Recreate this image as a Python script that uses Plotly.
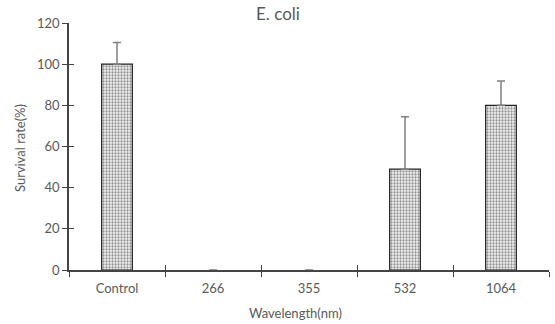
import plotly.graph_objects as go

categories = ["Control", "266", "355", "532", "1064"]
survival = [100, 0, 0, 49, 80]
err_plus = [10.5, None, None, 25.5, 11.8]
err_minus = [0, None, None, 0, 0]

outline = [1.2 if v > 0 else 0 for v in survival]
bar_opacity = [1 if v > 0 else 0 for v in survival]

fig = go.Figure()
fig.add_trace(go.Bar(
    x=categories, y=survival, width=0.32,
    marker=dict(color="#bdbdbd", opacity=bar_opacity, line=dict(color="#222222", width=outline),
                pattern=dict(shape=".", fgcolor="#333333", bgcolor="#f2f2f2", size=3, solidity=0.45)),
    error_y=dict(type="data", symmetric=False, array=err_plus, arrayminus=err_minus,
                 color="#7f7f7f", thickness=1.5, width=4, visible=True),
    showlegend=False,
))
# invisible companion trace on overlay axes, used only to draw the inward half of the crossing ticks
fig.add_trace(go.Bar(x=categories, y=survival, xaxis="x2", yaxis="y2", opacity=0,
                     hoverinfo="skip", showlegend=False))

font = "Lato, Open Sans, sans-serif"
grey = "#595959"
axcol = "#444444"
fig.update_layout(
    width=555, height=324,
    margin=dict(l=69, r=6, t=23, b=54, autoexpand=False),
    plot_bgcolor="white", paper_bgcolor="white",
    font=dict(family=font, size=13, color=grey),
    xaxis=dict(type="category", range=[-0.5, 4.5], showline=True, linecolor=axcol, linewidth=1.5,
               ticks="outside", tickson="boundaries", ticklen=5, tickcolor=axcol, tickwidth=1.2,
               tickfont=dict(size=13, color=grey), automargin=False, ticklabelstandoff=6),
    yaxis=dict(range=[0, 120], dtick=20, showline=True, linecolor=axcol, linewidth=1.5,
               ticks="outside", ticklen=5, tickcolor=axcol, tickwidth=1.2, showgrid=False, zeroline=False,
               tickfont=dict(size=13, color=grey), automargin=False),
    xaxis2=dict(type="category", range=[-0.5, 4.5], overlaying="x", side="bottom", anchor="y2",
                ticks="inside", tickson="boundaries", ticklen=5, tickcolor=axcol, tickwidth=1.2,
                showticklabels=False, showgrid=False, showline=False, automargin=False),
    yaxis2=dict(range=[0, 120], dtick=20, overlaying="y", side="left", anchor="x2",
                ticks="inside", ticklen=5, tickcolor=axcol, tickwidth=1.2,
                showticklabels=False, showgrid=False, zeroline=False, showline=False, automargin=False),
    annotations=[
        dict(text="E. coli", x=278, y=13, xref="paper", yref="paper", showarrow=False,
             font=dict(size=17, color=grey)),
        dict(text="Wavelength(nm)", x=295, y=313, xref="paper", yref="paper", showarrow=False,
             font=dict(size=13, color=grey)),
        dict(text="Survival rate(%)", x=20, y=148, xref="paper", yref="paper", showarrow=False,
             textangle=-90, font=dict(size=13, color=grey)),
    ],
)
# convert pixel positions of annotations into paper fractions
pw, ph = 555 - 69 - 6, 324 - 23 - 54
for a in fig.layout.annotations:
    a.x = (a.x - 69) / pw
    a.y = (324 - 54 - a.y) / ph
    a.xanchor = "center"
    a.yanchor = "middle"
fig.write_html("out.html", config={"displayModeBar": False},
               post_script="document.body.style.margin='0';document.body.style.overflow='hidden';")
